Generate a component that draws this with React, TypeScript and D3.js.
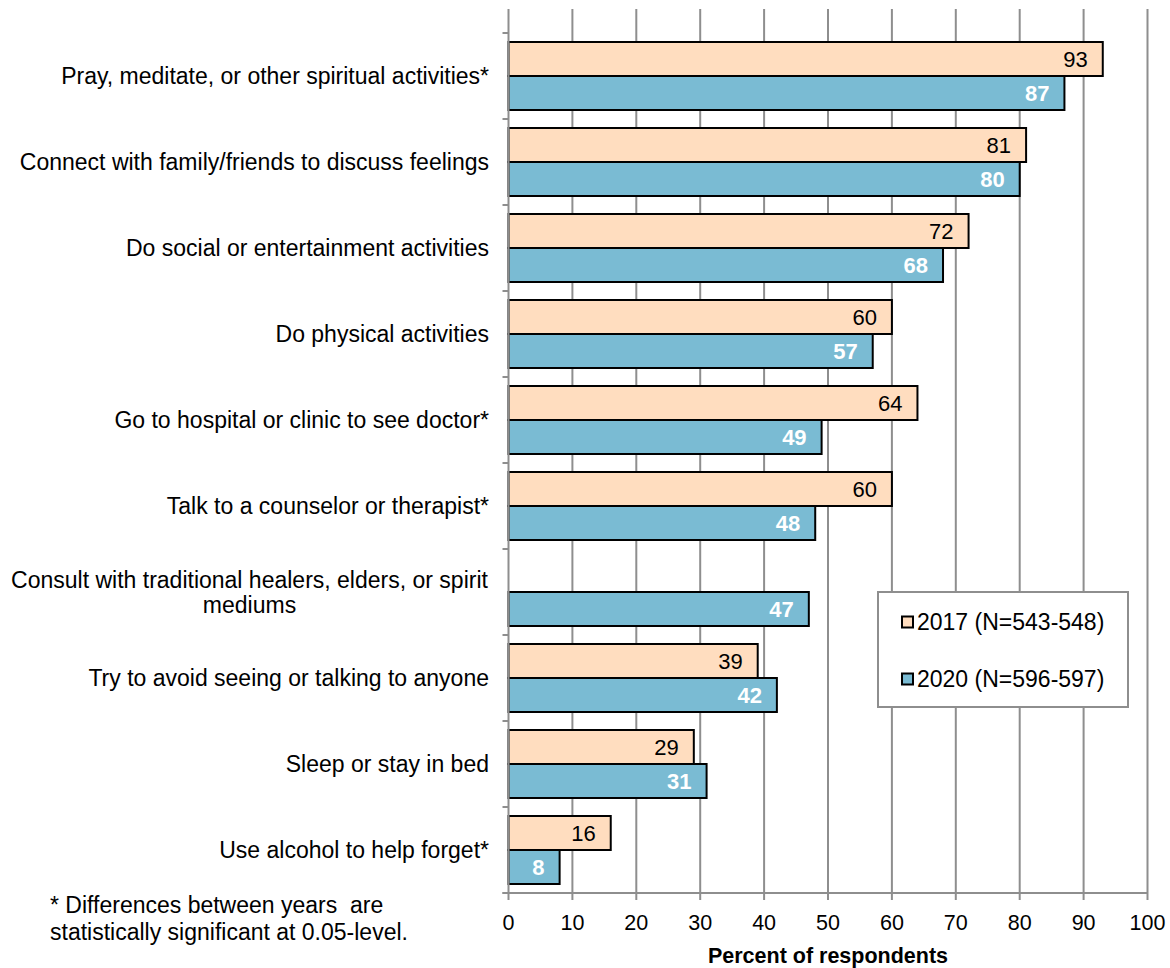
import React from "react";
import * as d3 from "d3";

// Coping strategies, percent of respondents by survey year
const categories: string[][] = [
  ["Pray, meditate, or other spiritual activities*"],
  ["Connect with family/friends to discuss feelings"],
  ["Do social or entertainment activities"],
  ["Do physical activities"],
  ["Go to hospital or clinic to see doctor*"],
  ["Talk to a counselor or therapist*"],
  ["Consult with traditional healers, elders, or spirit", "mediums"],
  ["Try to avoid seeing or talking to anyone"],
  ["Sleep or stay in bed"],
  ["Use alcohol to help forget*"],
];
const values2017: (number | null)[] = [93, 81, 72, 60, 64, 60, null, 39, 29, 16];
const values2020: (number | null)[] = [87, 80, 68, 57, 49, 48, 47, 42, 31, 8];
const seriesNames = ["2017 (N=543-548)", "2020 (N=596-597)"];
const xTicks = [0, 10, 20, 30, 40, 50, 60, 70, 80, 90, 100];
const footnote = [
  "* Differences between years  are",
  "statistically significant at 0.05-level.",
];
const axisTitle = "Percent of respondents";

const W = 1170;
const H = 968;
const FONT = "Liberation Sans, Arial, sans-serif";
const PEACH = "#FFDDBF";
const BLUE = "#7ABBD3";
const GRID = "#8E8E8E";

export default function App() {
  const plotLeft = 508.5;
  const plotRight = 1147.5;
  const plotTop = 9;
  const bandTop = 33;
  const bandBottom = 893;

  const x = d3.scaleLinear().domain([0, 100]).range([plotLeft, plotRight]);
  const y = d3
    .scaleBand<number>()
    .domain(d3.range(categories.length))
    .range([bandTop, bandBottom]);
  const bw = y.bandwidth();
  const pad = 9;
  const barH = (bw - 2 * pad) / 2;

  const series = [
    { values: values2017, fill: PEACH, text: "#000", weight: 400 },
    { values: values2020, fill: BLUE, text: "#fff", weight: 700 },
  ];

  return (
    <svg
      width={W}
      height={H}
      style={{ position: "absolute", left: 0, top: 0, background: "#fff" }}
      fontFamily={FONT}
    >
      {/* vertical gridlines */}
      {xTicks.slice(1).map((t) => (
        <line
          key={"g" + t}
          x1={x(t)}
          x2={x(t)}
          y1={plotTop}
          y2={bandBottom}
          stroke={GRID}
          strokeWidth={2}
        />
      ))}

      {/* bars */}
      {categories.map((_, i) => {
        const y0 = (y(i) as number) + pad;
        return series.map((s, si) => {
          const v = s.values[i];
          if (v == null) return null;
          const by = y0 + si * barH;
          return (
            <g key={`b${i}-${si}`}>
              <rect
                x={x(0)}
                y={by}
                width={x(v) - x(0)}
                height={barH}
                fill={s.fill}
                stroke="#000"
                strokeWidth={2}
              />
              <text
                x={x(v) - 15}
                y={by + barH / 2}
                dy="0.36em"
                textAnchor="end"
                fontSize={22}
                fill={s.text}
                fontWeight={s.weight}
              >
                {v}
              </text>
            </g>
          );
        });
      })}

      {/* axes */}
      <line x1={x(0)} x2={x(0)} y1={plotTop} y2={bandBottom} stroke={GRID} strokeWidth={2} />
      <line x1={x(0) - 6} x2={plotRight} y1={bandBottom} y2={bandBottom} stroke={GRID} strokeWidth={2} />
      {d3.range(categories.length + 1).map((i) => {
        const yy = bandTop + i * bw;
        return (
          <line key={"ct" + i} x1={x(0) - 6} x2={x(0)} y1={yy} y2={yy} stroke={GRID} strokeWidth={2} />
        );
      })}
      {xTicks.map((t) => (
        <g key={"t" + t}>
          <line x1={x(t)} x2={x(t)} y1={bandBottom} y2={bandBottom + 7} stroke={GRID} strokeWidth={2} />
          <text x={x(t)} y={922} dy="0.36em" textAnchor="middle" fontSize={21.5} fill="#000">
            {t}
          </text>
        </g>
      ))}
      <text
        x={(plotLeft + plotRight) / 2}
        y={955}
        dy="0.36em"
        textAnchor="middle"
        fontSize={21.5}
        fontWeight={700}
        fill="#000"
      >
        {axisTitle}
      </text>

      {/* category labels */}
      {categories.map((lines, i) => {
        const cy = (y(i) as number) + bw / 2;
        const lh = 25;
        if (lines.length === 1) {
          return (
            <text key={"c" + i} x={489} y={cy} dy="0.36em" textAnchor="end" fontSize={23} fill="#000">
              {lines[0]}
            </text>
          );
        }
        return (
          <text key={"c" + i} x={249.5} textAnchor="middle" fontSize={23} fill="#000">
            {lines.map((l, li) => (
              <tspan key={li} x={249.5} y={cy + (li - (lines.length - 1) / 2) * lh} dy="0.36em">
                {l}
              </tspan>
            ))}
          </text>
        );
      })}

      {/* legend */}
      <rect x={878} y={592} width={250} height={115} fill="#fff" stroke={GRID} strokeWidth={2} />
      {seriesNames.map((name, i) => {
        const cy = 622 + i * 57;
        return (
          <g key={"l" + i}>
            <rect x={902} y={cy - 5.5} width={11} height={11} fill={series[i].fill} stroke="#000" strokeWidth={2} />
            <text x={917} y={cy} dy="0.36em" fontSize={23} fill="#000">
              {name}
            </text>
          </g>
        );
      })}

      {/* footnote */}
      {footnote.map((l, i) => (
        <text
          key={"f" + i}
          x={50}
          y={905 + i * 27}
          dy="0.36em"
          fontSize={23}
          fill="#000"
          style={{ whiteSpace: "pre" }}
        >
          {l}
        </text>
      ))}
    </svg>
  );
}
